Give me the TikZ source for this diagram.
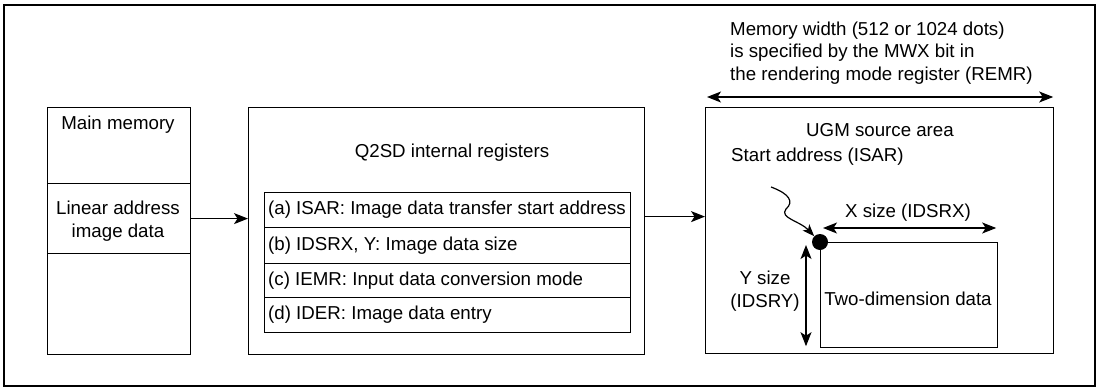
\documentclass[tikz,border=0pt]{standalone}
\usepackage{fontspec}
\setmainfont{Liberation Sans}
\usetikzlibrary{arrows.meta}
\begin{document}
\begin{tikzpicture}[x=1pt,y=-1pt,
  box/.style={draw,line width=1.2pt,inner sep=0,anchor=north west},
  txt/.style={font=\fontsize{18.7}{22.5}\selectfont,inner sep=0},
  arr/.style={line width=1.2pt,-{Stealth[length=14pt,width=11pt,inset=3.5pt]}},
  darr/.style={line width=1.2pt,{Stealth[length=14pt,width=11pt,inset=3.5pt]}-{Stealth[length=14pt,width=11pt,inset=3.5pt]}},
  ]
\useasboundingbox (0,0) rectangle (1100,389);
\draw[line width=2.2pt] (4,5) rectangle (1095,386);

% main memory
\node[box,minimum width=143pt,minimum height=76pt] (mm1) at (47,107) {};
\node[box,minimum width=143pt,minimum height=70pt] (mm2) at (47,183) {};
\node[box,minimum width=143pt,minimum height=101pt] (mm3) at (47,253) {};
\node[txt] (tmm) at (118,125) {Main memory};
\node[txt,align=center] (tlin) at (118,221) {Linear address\\image data};

% Q2SD
\node[box,minimum width=396pt,minimum height=247pt] (q2) at (248,107) {};
\node[txt] (tq2) at (452,153) {Q2SD internal registers};
\node[box,minimum width=366pt,minimum height=35pt] (r1) at (264,192) {};
\node[box,minimum width=366pt,minimum height=36pt] (r2) at (264,227) {};
\node[box,minimum width=366pt,minimum height=34pt] (r3) at (264,263) {};
\node[box,minimum width=366pt,minimum height=35pt] (r4) at (264,297) {};
\node[txt,anchor=west] (tr1) at ([xshift=4pt]r1.west) {(a) ISAR: Image data transfer start address};
\node[txt,anchor=west] (tr2) at ([xshift=4pt]r2.west) {(b) IDSRX, Y: Image data size};
\node[txt,anchor=west] (tr3) at ([xshift=4pt]r3.west) {(c) IEMR: Input data conversion mode};
\node[txt,anchor=west] (tr4) at ([xshift=4pt]r4.west) {(d) IDER: Image data entry};

% UGM
\node[box,minimum width=348pt,minimum height=246pt] (ugm) at (705,107) {};
\node[txt] (tugm) at (880,130) {UGM source area};
\node[txt,anchor=west] (tsa) at (731,157) {Start address (ISAR)};
\node[txt,anchor=west,align=left] (tmw) at (730,53) {Memory width (512 or 1024 dots)\\is specified by the MWX bit in\\the rendering mode register (REMR)};
\draw[darr] ([xshift=2pt,yshift=10pt]ugm.north west) -- ([xshift=-1pt,yshift=10pt]ugm.north east);

\node[box,minimum width=177pt,minimum height=105pt] (two) at (820,242) {};
\node[txt] (ttwo) at (908,299) {Two-dimension data};
\node[circle,fill,inner sep=0,minimum size=16pt] (dot) at (two.north west) {};
\draw[darr] ([xshift=3pt,yshift=14pt]two.north west) -- ([xshift=-2pt,yshift=14pt]two.north east);
\node[txt] (tx) at (908,213) {X size (IDSRX)};
\draw[darr] ([xshift=-14pt,yshift=-3pt]two.north west) -- ([xshift=-14pt,yshift=2pt]two.south west);
\node[txt,align=center] (ty) at (765,291) {Y size\\(IDSRY)};

\coordinate (cs) at (771,187);
\draw[line width=1.2pt,-{Stealth[length=12pt,width=9pt,inset=3pt]}] (cs) .. controls (790,194) and (794,202) .. (786,209) .. controls (779,218) and (800,221) .. (dot.north west);

% connectors
\draw[arr] (mm2.east) -- (mm2.east -| q2.west);
\draw[arr] ([yshift=2pt]q2.east |- mm2.east) -- ([yshift=2pt]ugm.west |- mm2.east);
\end{tikzpicture}
\end{document}
